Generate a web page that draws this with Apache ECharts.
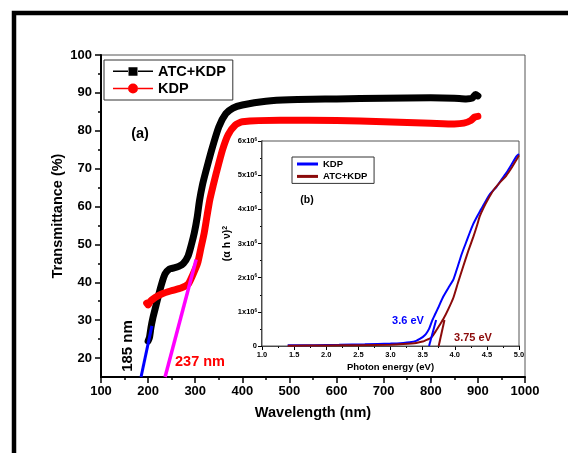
<!DOCTYPE html>
<html>
<head>
<meta charset="utf-8">
<script src="https://cdn.jsdelivr.net/npm/echarts@6/dist/echarts.min.js"></script>
<style>
html, body { margin: 0; padding: 0; background: #fff; }
#chart { width: 568px; height: 453px; }
</style>
</head>
<body>
<div id="chart"></div>
<script>
// main plot: transmittance vs wavelength
var atcKdp = [[200,24.5],[203,25.5],[206,28],[210,30.5],[216,33.5],[222,36.5],[229,39.7],[236,42.2],[245,43.5],
    [255,43.8],[265,44.2],[275,45],[285,47],[292,50],[298,53],[304,57],[309,61.5],[315,65.5],[322,69],
    [335,75],[350,81],[365,84.5],[380,86],[400,86.8],[450,87.8],[500,88.2],[600,88.4],[700,88.6],
    [800,88.7],[850,88.6],[875,88.4],[888,88.6],[895,89.6],[900,89.2]];
var kdp = [[197,34.5],[200,34],[205,35],[215,36],[230,37],[250,37.8],[270,38.5],[285,39.5],[295,42],
    [305,45],[312,49],[319,53],[325,57.5],[331,61.8],[338,65.5],[345,69],[358,75],[370,79],[385,81.5],
    [400,82.4],[480,82.8],[600,82.7],[700,82.4],[800,82],[850,81.8],[870,82],[885,82.7],[893,83.6],[900,83.8]];
var tangent185 = [[185,15],[208,28.5]];
var tangent237 = [[236,15],[302,46]];
var yTickLabels = [20,30,40,50,60,70,80,90,100];
var yMinorTicks = [25,35,45,55,65,75,85,95];

// inset: (alpha h nu)^2 in units of 10^6 vs photon energy
var insetKdp = [[1.4,0.02],[1.8,0.025],[2.2,0.035],[2.6,0.05],[3.0,0.07],[3.2,0.09],[3.3,0.11],[3.4,0.15],
    [3.45,0.2],[3.5,0.26],[3.55,0.35],[3.6,0.5],[3.65,0.75],[3.7,0.95],[3.75,1.15],[3.82,1.44],[3.9,1.7],
    [3.98,1.95],[4.05,2.35],[4.11,2.7],[4.17,3.0],[4.23,3.3],[4.29,3.58],[4.35,3.8],[4.41,4.0],[4.47,4.2],
    [4.55,4.45],[4.65,4.66],[4.72,4.85],[4.8,5.06],[4.88,5.3],[4.96,5.55],[5.0,5.62]];
var insetAtc = [[1.4,0.01],[2.0,0.015],[2.5,0.025],[3.0,0.04],[3.2,0.06],[3.4,0.09],[3.5,0.13],[3.55,0.17],
    [3.6,0.21],[3.64,0.26],[3.7,0.42],[3.76,0.6],[3.82,0.78],[3.9,1.08],[3.98,1.42],[4.05,1.85],[4.13,2.32],
    [4.21,2.78],[4.29,3.2],[4.35,3.55],[4.39,3.8],[4.45,4.05],[4.52,4.3],[4.6,4.55],[4.7,4.78],[4.8,4.98],
    [4.88,5.2],[4.96,5.45],[5.0,5.58]];
var tangentKdp = [[3.6,0],[3.71,0.76]];
var tangentAtc = [[3.75,0],[3.84,0.76]];

var FONT = 'Liberation Sans';
var darkRed = '#8b0a0a';

var myChart = echarts.init(document.getElementById('chart'));

var option = {
    animation: false,
    backgroundColor: '#fff',
    textStyle: { fontFamily: FONT },
    grid: [
        { left: 101, right: 43, top: 55, bottom: 76, show: true, borderColor: '#555', borderWidth: 1 },
        { left: 262, right: 49, top: 141, bottom: 107, show: true, borderColor: '#555', borderWidth: 1, backgroundColor: '#fff', z: 5 }
    ],
    legend: [
        {
            orient: 'vertical', left: 104, top: 60, padding: [4, 7, 4, 9], itemGap: 2,
            itemWidth: 40, itemHeight: 10,
            borderColor: '#333', borderWidth: 1,
            textStyle: { fontFamily: FONT, fontWeight: 'bold', fontSize: 14.5, color: '#000' },
            data: [
                { name: 'ATC+KDP', icon: 'path://M0,4.2L15,4.2L15,5.8L0,5.8Z M25,4.2L40,4.2L40,5.8L25,5.8Z M15.5,1L24.5,1L24.5,9.5L15.5,9.5Z' },
                { name: 'KDP', icon: 'path://M0,4.2L15,4.2L15,5.8L0,5.8Z M25,4.2L40,4.2L40,5.8L25,5.8Z M15,5A5,5 0 1 1 25,5A5,5 0 1 1 15,5Z' }
            ]
        },
        {
            orient: 'vertical', left: 292, top: 157, padding: [2, 4, 2, 5], itemGap: 2.4,
            itemWidth: 21, itemHeight: 3, z: 10,
            borderColor: '#333', borderWidth: 1,
            textStyle: { fontFamily: FONT, fontWeight: 'bold', fontSize: 9.5, color: '#000' },
            data: [
                { name: 'KDP ', icon: 'path://M0,0L21,0L21,3L0,3Z' },
                { name: 'ATC+KDP ', icon: 'path://M0,0L21,0L21,3L0,3Z' }
            ]
        }
    ],
    xAxis: [
        {
            gridIndex: 0, type: 'value', min: 100, max: 1000, interval: 100,
            name: 'Wavelength (nm)', nameLocation: 'middle', nameGap: 28,
            nameTextStyle: { fontFamily: FONT, fontWeight: 'bold', fontSize: 14.5, color: '#000' },
            axisLine: { lineStyle: { color: '#000', width: 2 } },
            axisTick: { length: 6, lineStyle: { color: '#000', width: 1.5 } },
            minorTick: { show: true, splitNumber: 2, length: 3, lineStyle: { color: '#000', width: 1.5 } },
            axisLabel: { fontFamily: FONT, fontWeight: 'bold', fontSize: 13, color: '#000', margin: 8,
                formatter: function (v) { return String(v); } },
            splitLine: { show: false }
        },
        {
            gridIndex: 1, type: 'value', min: 1, max: 5, interval: 0.5,
            name: 'Photon energy (eV)', nameLocation: 'middle', nameGap: 16,
            nameTextStyle: { fontFamily: FONT, fontWeight: 'bold', fontSize: 9.5, color: '#000' },
            axisLine: { lineStyle: { color: '#000', width: 1.5 } },
            axisTick: { length: 4, lineStyle: { color: '#000', width: 1 } },
            minorTick: { show: true, splitNumber: 2, length: 2, lineStyle: { color: '#000', width: 1 } },
            axisLabel: { fontFamily: FONT, fontWeight: 'bold', fontSize: 7.5, color: '#000', margin: 5,
                formatter: function (v) { return v.toFixed(1); } },
            splitLine: { show: false }
        }
    ],
    yAxis: [
        {
            gridIndex: 0, type: 'value', min: 15, max: 100,
            name: 'Transmittance (%)', nameLocation: 'middle', nameGap: 36, nameMoveOverlap: false,
            nameTextStyle: { fontFamily: FONT, fontWeight: 'bold', fontSize: 14.5, color: '#000' },
            axisLine: { show: true, lineStyle: { color: '#000', width: 2 } },
            axisTick: { show: true, length: 6, customValues: yTickLabels, lineStyle: { color: '#000', width: 1.5 } },
            axisLabel: { fontFamily: FONT, fontWeight: 'bold', fontSize: 13, color: '#000', margin: 9, customValues: yTickLabels },
            splitLine: { show: false }
        },
        {
            gridIndex: 0, type: 'value', min: 15, max: 100, position: 'left',
            axisLine: { show: false },
            axisTick: { show: true, length: 3, customValues: yMinorTicks, lineStyle: { color: '#000', width: 1.5 } },
            axisLabel: { show: false },
            splitLine: { show: false }
        },
        {
            gridIndex: 1, type: 'value', min: 0, max: 6, interval: 1,
            name: '(\u03b1 h \u03bd){s|2}', nameLocation: 'middle', nameGap: 29,
            nameTextStyle: { fontFamily: FONT, fontWeight: 'bold', fontSize: 10.5, color: '#000',
                rich: { s: { fontFamily: FONT, fontWeight: 'bold', fontSize: 7, verticalAlign: 'top', color: '#000' } } },
            axisLine: { show: true, lineStyle: { color: '#000', width: 1.5 } },
            axisTick: { length: 4, lineStyle: { color: '#000', width: 1 } },
            minorTick: { show: true, splitNumber: 2, length: 2, lineStyle: { color: '#000', width: 1 } },
            axisLabel: {
                color: '#000', margin: 5,
                formatter: function (v) { return v === 0 ? '{n|0}' : '{n|' + v + 'x10}{s|6}'; },
                rich: {
                    n: { fontFamily: FONT, fontWeight: 'bold', fontSize: 7.5, color: '#000' },
                    s: { fontFamily: FONT, fontWeight: 'bold', fontSize: 4.5, color: '#000', verticalAlign: 'top' }
                }
            },
            splitLine: { show: false }
        }
    ],
    series: [
        { name: 'ATC+KDP', type: 'line', xAxisIndex: 0, yAxisIndex: 0, data: atcKdp, showSymbol: false, symbol: 'none',
          smooth: 0.2, color: '#000', lineStyle: { color: '#000', width: 7, join: 'round', cap: 'round' }, z: 3 },
        { name: 'KDP', type: 'line', xAxisIndex: 0, yAxisIndex: 0, data: kdp, showSymbol: false, symbol: 'none',
          smooth: 0.2, color: '#ff0000', lineStyle: { color: '#ff0000', width: 7, join: 'round', cap: 'round' }, z: 3 },
        { name: 'tangent185', type: 'line', xAxisIndex: 0, yAxisIndex: 0, data: tangent185, symbol: 'none',
          lineStyle: { color: '#0000ff', width: 3 }, z: 4 },
        { name: 'tangent237', type: 'line', xAxisIndex: 0, yAxisIndex: 0, data: tangent237, symbol: 'none',
          lineStyle: { color: '#ff00ff', width: 3.5 }, z: 4 },
        { name: 'KDP ', type: 'line', xAxisIndex: 1, yAxisIndex: 2, data: insetKdp, symbol: 'none', smooth: 0.2,
          color: '#0000ff', lineStyle: { color: '#0000ff', width: 2 }, z: 8 },
        { name: 'ATC+KDP ', type: 'line', xAxisIndex: 1, yAxisIndex: 2, data: insetAtc, symbol: 'none', smooth: 0.2,
          color: darkRed, lineStyle: { color: darkRed, width: 2 }, z: 8 },
        { name: 'tanKdp', type: 'line', xAxisIndex: 1, yAxisIndex: 2, data: tangentKdp, symbol: 'none',
          lineStyle: { color: '#0000ff', width: 2 }, z: 8 },
        { name: 'tanAtc', type: 'line', xAxisIndex: 1, yAxisIndex: 2, data: tangentAtc, symbol: 'none',
          lineStyle: { color: darkRed, width: 2 }, z: 8 }
    ],
    graphic: [
        { type: 'polyline', shape: { points: [[14, 453], [14, 13], [568, 13]] }, style: { stroke: '#000', lineWidth: 4.5, fill: null }, z: 100 },
        { type: 'text', x: 140, y: 134, style: { text: '(a)', fontFamily: FONT, fontWeight: 'bold', fontSize: 14.5, fill: '#000', align: 'center', verticalAlign: 'middle' }, z: 100 },
        { type: 'text', x: 307, y: 200, style: { text: '(b)', fontFamily: FONT, fontWeight: 'bold', fontSize: 10.5, fill: '#000', align: 'center', verticalAlign: 'middle' }, z: 100 },
        { type: 'text', x: 128, y: 346, rotation: Math.PI / 2, style: { text: '185 nm', fontFamily: FONT, fontWeight: 'bold', fontSize: 15, fill: '#000', align: 'center', verticalAlign: 'middle' }, z: 100 },
        { type: 'text', x: 200, y: 362, style: { text: '237 nm', fontFamily: FONT, fontWeight: 'bold', fontSize: 14.5, fill: '#ff0000', align: 'center', verticalAlign: 'middle' }, z: 100 },
        { type: 'text', x: 408, y: 321, style: { text: '3.6 eV', fontFamily: FONT, fontWeight: 'bold', fontSize: 11, fill: '#0000ff', align: 'center', verticalAlign: 'middle' }, z: 100 },
        { type: 'text', x: 473, y: 338, style: { text: '3.75 eV', fontFamily: FONT, fontWeight: 'bold', fontSize: 11, fill: darkRed, align: 'center', verticalAlign: 'middle' }, z: 100 }
    ]
};

myChart.setOption(option);
</script>
</body>
</html>
